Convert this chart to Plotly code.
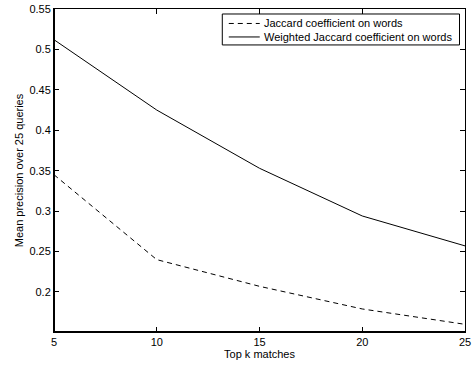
import plotly.graph_objects as go

k_values = [5, 10, 15, 20, 25]
jaccard = [0.345, 0.240, 0.207, 0.179, 0.160]
weighted_jaccard = [0.512, 0.425, 0.353, 0.294, 0.257]
y_ticks = [0.2, 0.25, 0.3, 0.35, 0.4, 0.45, 0.5, 0.55]
y_tick_labels = ["0.2", "0.25", "0.3", "0.35", "0.4", "0.45", "0.5", "0.55"]
x_ticks = [5, 10, 15, 20, 25]
series_names = ["Jaccard coefficient on words", "Weighted Jaccard coefficient on words"]

FONT = "Liberation Sans, Arial, Helvetica, sans-serif"
DASH = "5px,4px"

fig = go.Figure()
fig.add_trace(go.Scatter(
    x=k_values, y=jaccard, mode="lines", name=series_names[0],
    line=dict(color="black", width=1, dash=DASH),
))
fig.add_trace(go.Scatter(
    x=k_values, y=weighted_jaccard, mode="lines", name=series_names[1],
    line=dict(color="black", width=1),
))

W, H = 474, 367
L, R, T, B = 54, 8.5, 8.5, 35
pw, ph = W - L - R, H - T - B

def px(x):
    return (x - L) / pw

def py(y):
    return 1 - (y - T) / ph

# manual legend box (MATLAB style)
box_x0, box_x1, box_y0, box_y1 = 222.5, 460, 13.5, 44.5
row_y = [23.0, 36.5]
line_x0, line_x1, text_x = 229, 260, 262

shapes = [
    dict(type="rect", xref="paper", yref="paper",
         x0=px(box_x0), x1=px(box_x1), y0=py(box_y1), y1=py(box_y0),
         line=dict(color="black", width=1), fillcolor="white", layer="above"),
    dict(type="line", xref="paper", yref="paper",
         x0=px(line_x0), x1=px(line_x1), y0=py(row_y[0]), y1=py(row_y[0]),
         line=dict(color="black", width=1, dash=DASH), layer="above"),
    dict(type="line", xref="paper", yref="paper",
         x0=px(line_x0), x1=px(line_x1), y0=py(row_y[1]), y1=py(row_y[1]),
         line=dict(color="black", width=1), layer="above"),
    dict(type="line", xref="paper", yref="paper", x0=0, x1=0, y0=0, y1=1,
         line=dict(color="black", width=2)),
    dict(type="line", xref="paper", yref="paper", x0=0, x1=1, y0=0, y1=0,
         line=dict(color="black", width=2)),
]
annotations = [
    dict(xref="paper", yref="paper", x=px(text_x), y=py(ry), text=name,
         showarrow=False, xanchor="left", yanchor="middle",
         font=dict(size=11, color="black", family=FONT))
    for ry, name in zip(row_y, series_names)
]

fig.update_layout(
    width=W, height=H,
    margin=dict(l=L, r=R, t=T, b=B, autoexpand=False),
    paper_bgcolor="white", plot_bgcolor="white",
    font=dict(family=FONT, size=11, color="black"),
    showlegend=False,
    xaxis=dict(
        range=[5, 25], tickvals=x_ticks, automargin=False,
        ticks="inside", ticklen=5, tickcolor="black",
        showline=True, linecolor="black", linewidth=1, mirror="ticks",
        showgrid=False, zeroline=False,
        title=dict(text="Top k matches", font=dict(size=11), standoff=3),
    ),
    yaxis=dict(
        range=[0.1505, 0.55], tickvals=y_ticks, ticktext=y_tick_labels,
        automargin=False,
        ticks="inside", ticklen=5, tickcolor="black",
        showline=True, linecolor="black", linewidth=1, mirror="ticks",
        showgrid=False, zeroline=False,
        title=dict(text="Mean precision over 25 queries", font=dict(size=11), standoff=3),
    ),
    shapes=shapes,
    annotations=annotations,
)

fig.write_html(
    "out.html",
    config={"displayModeBar": False},
    post_script="document.body.style.margin='0';document.body.style.overflow='hidden';",
)
